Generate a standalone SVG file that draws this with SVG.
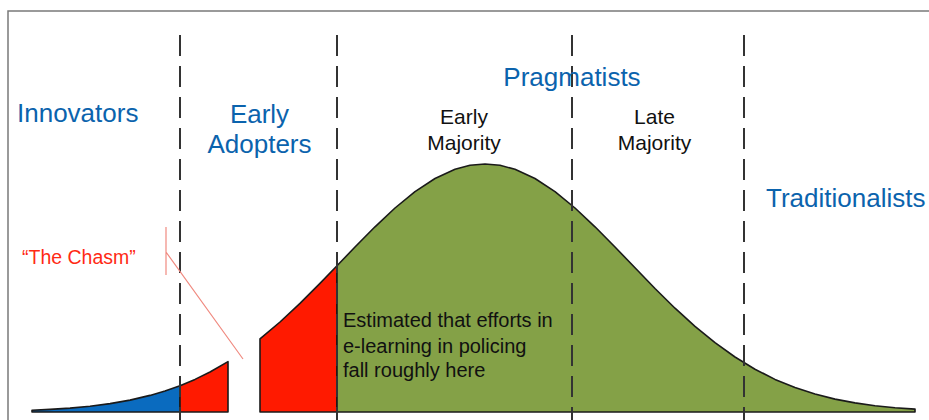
<svg xmlns="http://www.w3.org/2000/svg" width="929" height="420" viewBox="0 0 929 420">
<style>
.blue{font-family:"Liberation Sans",Arial,sans-serif;font-size:26px;fill:#0b63ad}
.blk{font-family:"Liberation Sans",Arial,sans-serif;font-size:21px;fill:#111}
.note{font-family:"Liberation Sans",Arial,sans-serif;font-size:20px;fill:#111}
.chasm{font-family:"Liberation Sans",Arial,sans-serif;font-size:19.5px;fill:#ff2a14}
.area{stroke:#1a1a1a;stroke-width:1.6;stroke-linejoin:round}
.dash{stroke:#333;stroke-width:2;stroke-dasharray:21 10;fill:none}
</style>
<rect width="929" height="420" fill="#fff"/>
<g id="frame">
<path d="M8 420 V11 H929" fill="none" stroke="#7a7a7a" stroke-width="1.5"/>
</g>
<g id="curve">
<polygon id="innovators-area" class="area" fill="#0a6bbf" points="32,412 32,410.2 50,409.4 70,408.1 90,406.2 110,403.6 130,400.1 150,395.4 165,391 180,385.7 180,412"/>
<polygon id="early-adopters-area-1" class="area" fill="#ff1a00" points="180,412 180,385.7 195,379.4 210,372 228,361.6 228,412"/>
<polygon id="early-adopters-area-2" class="area" fill="#ff1a00" points="260,412 260,338.8 280,322 300,303.4 320,283.4 337,265.8 337,412"/>
<polygon id="majority-area" class="area" fill="#84a147" points="337,412 337,265.8 355,247 375,226.8 395,208 415,191.6 435,178.5 455,169.3 470,165.3 485,164 500,165.3 515,169.3 535,178.5 555,191.6 575,208 595,226.8 615,247 635,267.8 655,288.5 675,308.2 695,326.4 715,342.7 735,357 755,369.2 775,379.4 795,387.5 815,394 835,399.1 855,402.9 875,405.7 895,407.7 915,409.1 915,412"/>
</g>
<g id="connectors">
<line class="dash" x1="180" y1="35" x2="180" y2="420"/>
<line class="dash" x1="337" y1="35" x2="337" y2="420"/>
<line class="dash" x1="572" y1="35" x2="572" y2="420"/>
<line class="dash" x1="744" y1="35" x2="744" y2="420"/>
<path d="M166 227 V275 M166 252 L243 359" fill="none" stroke="#f08a80" stroke-width="1.2"/>
</g>
<g id="innovators"><text class="blue" x="17" y="122">Innovators</text></g>
<g id="early-adopters"><text class="blue" x="259.5" y="123" text-anchor="middle">Early</text><text class="blue" x="259.5" y="153" text-anchor="middle">Adopters</text></g>
<g id="pragmatists"><text class="blue" x="572" y="86" text-anchor="middle">Pragmatists</text></g>
<g id="early-majority"><text class="blk" x="464" y="124" text-anchor="middle">Early</text><text class="blk" x="464" y="150" text-anchor="middle">Majority</text></g>
<g id="late-majority"><text class="blk" x="654.5" y="124" text-anchor="middle">Late</text><text class="blk" x="654.5" y="150" text-anchor="middle">Majority</text></g>
<g id="traditionalists"><text class="blue" x="766" y="207">Traditionalists</text></g>
<g id="the-chasm"><text class="chasm" x="22" y="264">“The Chasm”</text></g>
<g id="estimate-note"><text class="note" x="343" y="327">Estimated that efforts in</text><text class="note" x="343" y="353">e-learning in policing</text><text class="note" x="343" y="377">fall roughly here</text></g>
</svg>
